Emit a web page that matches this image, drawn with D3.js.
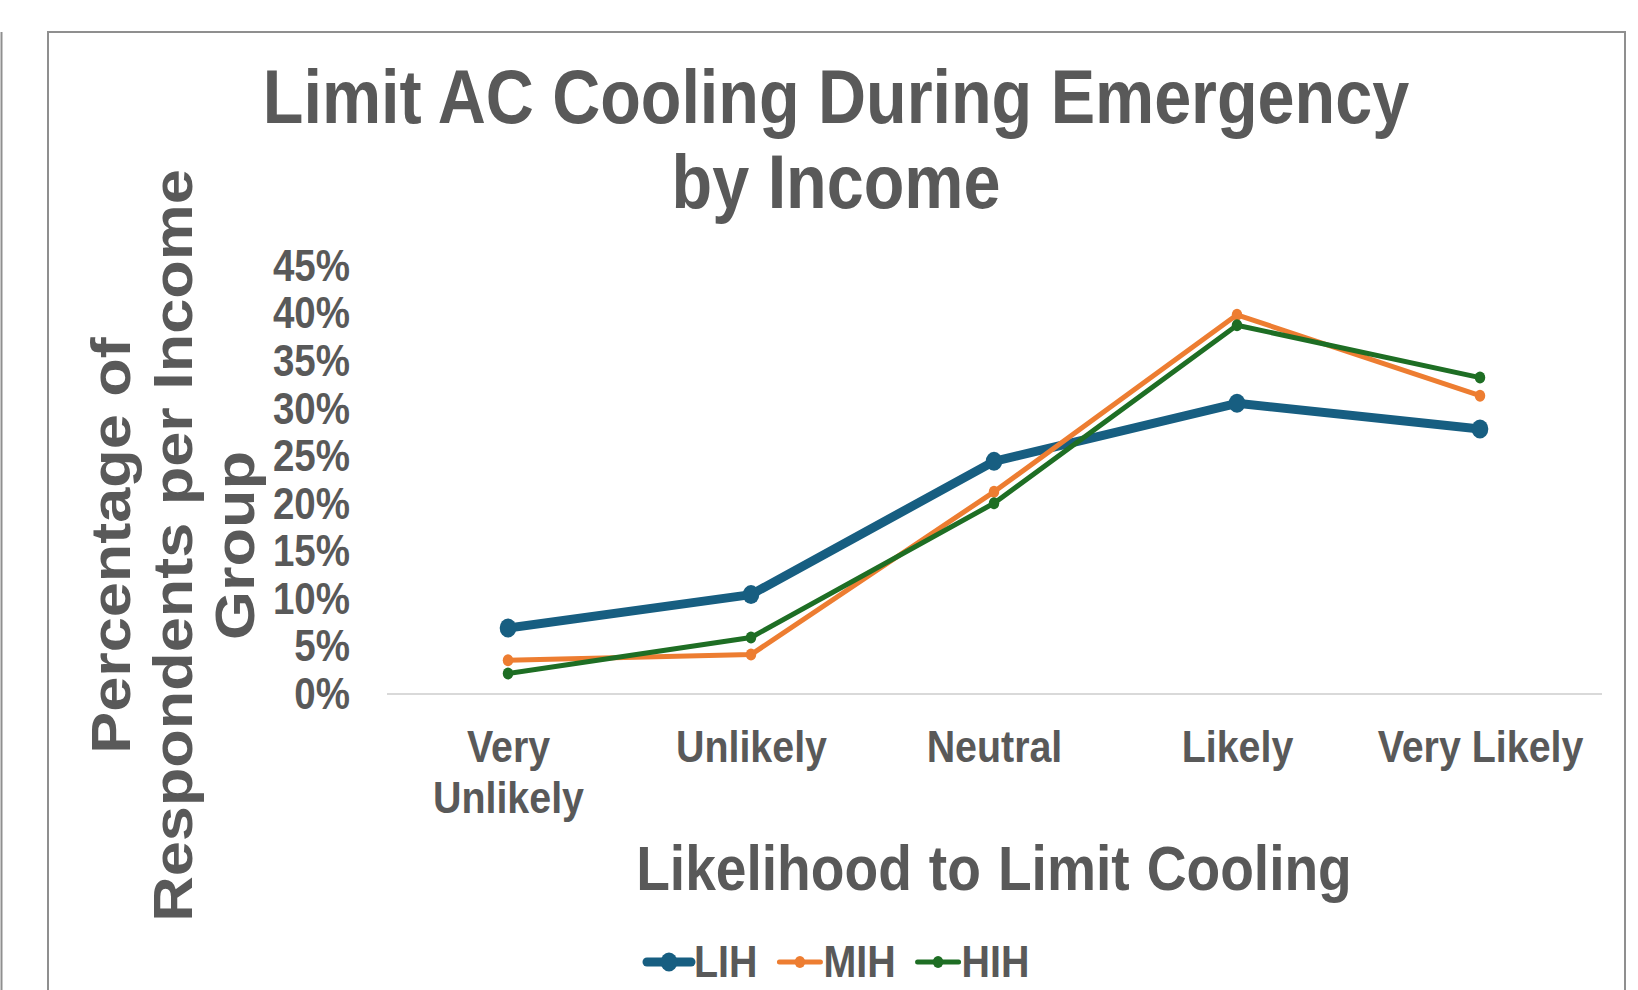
<!DOCTYPE html>
<html>
<head>
<meta charset="utf-8">
<script src="https://cdn.jsdelivr.net/npm/d3@7"></script>
<style>
    body { margin: 0; background: #fff; }
    svg text { font-family: Arial, "Liberation Sans", sans-serif; font-weight: bold; fill: #595959; }
</style>
</head>
<body>
<div id="chart_block"></div>
<script>
// data
var categories = ["Very Unlikely", "Unlikely", "Neutral", "Likely", "Very Likely"]
var categoryLines = [["Very", "Unlikely"], ["Unlikely"], ["Neutral"], ["Likely"], ["Very Likely"]]
var seriesNames = ["LIH", "MIH", "HIH"]
var lihValues = [0.069, 0.104, 0.244, 0.305, 0.278]
var mihValues = [0.035, 0.041, 0.212, 0.398, 0.313]
var hihValues = [0.021, 0.059, 0.200, 0.387, 0.332]
var yTicks = [0, 0.05, 0.10, 0.15, 0.20, 0.25, 0.30, 0.35, 0.40, 0.45]
var titleLines = ["Limit AC Cooling During Emergency", "by Income"]
var yTitleLines = ["Percentage of", "Respondents per Income", "Group"]
var xTitle = "Likelihood to Limit Cooling"

var series = [
    { name: seriesNames[0], values: lihValues, color: "#175e81", width: 9, r: 9.5 },
    { name: seriesNames[1], values: mihValues, color: "#ed7d31", width: 5, r: 6 },
    { name: seriesNames[2], values: hihValues, color: "#1e6e24", width: 5, r: 6 }
]

var width = 1638,
    height = 990,
    sx = 0.875 // the original picture is squeezed sideways

var svg = d3.select("#chart_block")
    .append("svg")
    .attr("width", width)
    .attr("height", height)

// frames
svg.append("line")
    .attr("x1", 1.5).attr("x2", 1.5)
    .attr("y1", 32).attr("y2", height)
    .style("stroke", "#8f8f8f").style("stroke-width", 2)

svg.append("rect")
    .attr("x", 48).attr("y", 32)
    .attr("width", 1577).attr("height", 1000)
    .style("fill", "none").style("stroke", "#8f8f8f").style("stroke-width", 2)

// scales
var x = d3.scalePoint()
    .domain(categories)
    .range([386.5, 1601.5])
    .padding(0.5)

var y = d3.scaleLinear()
    .domain([0, 0.45])
    .range([693.6, 265.3])

// title
svg.selectAll(".title")
    .data(titleLines)
    .enter()
    .append("text")
    .attr("class", "title")
    .attr("transform", function(d, i) { return "translate(836," + (123 + i * 85) + ") scale(" + sx + ",1)" })
    .attr("text-anchor", "middle")
    .style("font-size", "76px")
    .text(function(d) { return d })

// y axis labels
var yAxis = svg.append("g")
    .attr("transform", "translate(350,0)")
    .call(d3.axisLeft(y).tickValues(yTicks).tickFormat(d3.format(".0%")).tickSize(0).tickPadding(0))
yAxis.select(".domain").remove()
yAxis.selectAll("text")
    .attr("x", 0)
    .attr("dy", "0.34em")
    .attr("transform", "scale(" + sx + ",1)")
    .style("font-size", "44px")
    .style("font-family", null)
    .attr("fill", null)

// x axis
var xAxis = svg.append("g")
    .attr("transform", "translate(0," + y(0) + ")")
    .call(d3.axisBottom(x).tickSize(0).tickSizeOuter(0))
xAxis.select(".domain")
    .style("stroke", "#d9d9d9")
    .style("stroke-width", 2)
xAxis.selectAll(".tick text")
    .attr("y", null)
    .attr("dy", null)
    .attr("fill", null)
    .attr("transform", "scale(" + sx + ",1)")
    .style("font-size", "45px")
    .style("font-family", null)
    .text(null)
    .each(function(d, i) {
        var t = d3.select(this)
        categoryLines[i].forEach(function(line, j) {
            t.append("tspan").attr("x", 0).attr("y", 68.5 + j * 51).text(line)
        })
    })

// axis titles
svg.append("text")
    .attr("transform", "translate(994,890) scale(" + sx + ",1)")
    .attr("text-anchor", "middle")
    .style("font-size", "63px")
    .style("word-spacing", "2px")
    .text(xTitle)

svg.selectAll(".ytitle")
    .data(yTitleLines)
    .enter()
    .append("text")
    .attr("class", "ytitle")
    .attr("transform", function(d, i) { return "translate(" + (130 + i * 62) + ",545.5) scale(" + sx + ",1) rotate(-90)" })
    .attr("text-anchor", "middle")
    .style("font-size", "63px")
    .text(function(d) { return d })

// lines and markers
var line = d3.line()
    .x(function(d, i) { return x(categories[i]) })
    .y(function(d) { return y(d) })

var serieG = svg.selectAll(".serie")
    .data(series)
    .enter()
    .append("g")
    .attr("class", "serie")

serieG.append("path")
    .attr("d", function(d) { return line(d.values) })
    .style("fill", "none")
    .style("stroke", function(d) { return d.color })
    .style("stroke-width", function(d) { return d.width })
    .style("stroke-linejoin", "round")

serieG.each(function(s) {
    d3.select(this).selectAll("ellipse")
        .data(s.values)
        .enter()
        .append("ellipse")
        .attr("cx", function(d, i) { return x(categories[i]) })
        .attr("cy", function(d) { return y(d) })
        .attr("rx", s.r * sx)
        .attr("ry", s.r)
        .style("fill", s.color)
})

// legend
var legendX = 647,
    legendY = 962
series.forEach(function(s) {
    var g = svg.append("g")
    var symW = s.width > 6 ? 44 : 41
    g.append("line")
        .attr("x1", legendX).attr("x2", legendX + symW)
        .attr("y1", legendY).attr("y2", legendY)
        .style("stroke", s.color)
        .style("stroke-width", s.width)
        .style("stroke-linecap", "round")
    g.append("ellipse")
        .attr("cx", legendX + symW / 2).attr("cy", legendY)
        .attr("rx", s.r * sx).attr("ry", s.r)
        .style("fill", s.color)
    var t = g.append("text")
        .attr("transform", "translate(" + (legendX + symW + 3) + ",977) scale(" + sx + ",1)")
        .style("font-size", "45px")
        .text(s.name)
    legendX = legendX + symW + 3 + t.node().getComputedTextLength() * sx + 22
})
</script>
</body>
</html>
